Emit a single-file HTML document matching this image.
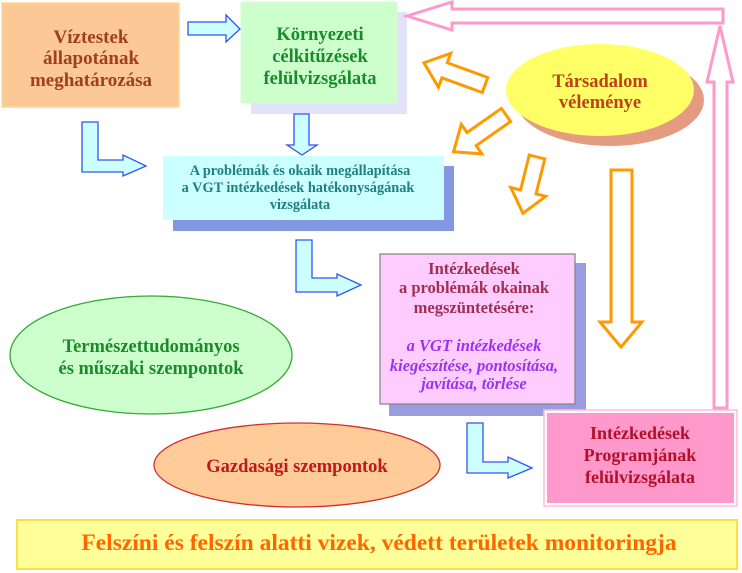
<!DOCTYPE html>
<html><head><meta charset="utf-8"><style>
html,body{margin:0;padding:0;background:#fff;}
svg{display:block;}
text{font-family:"Liberation Serif",serif;font-weight:bold;}
</style></head><body>
<svg width="742" height="573" viewBox="0 0 742 573" xmlns="http://www.w3.org/2000/svg">
<rect x="2" y="3" width="177" height="104" fill="#fcc895" stroke="#fbd890" stroke-width="1.5"/>
<g fill="#a0401a" font-size="19" text-anchor="middle">
<text x="91" y="43">Víztestek</text>
<text x="91" y="64">állapotának</text>
<text x="91" y="86">meghatározása</text>
</g>
<rect x="251" y="12" width="156" height="102" fill="#e2e2fa"/>
<rect x="241" y="2" width="156" height="101" fill="#ccffcc" stroke="#d8f8d8"/>
<g fill="#1a8a2a" font-size="18.5" text-anchor="middle">
<text x="320" y="40">Környezeti</text>
<text x="320" y="62">célkitűzések</text>
<text x="320" y="84">felülvizsgálata</text>
</g>
<polygon points="188,22 226,22 226,15 240,29 226,42 226,35 188,35" fill="#ccffff" stroke="#3355ee" stroke-width="1.3"/>
<polygon points="294,114 309,114 309,145 317,145 302,155 287,145 294,145" fill="#ccffff" stroke="#3355ee" stroke-width="1.3"/>
<polygon points="82,122 98,122 98,160 123,160 123,155 146,166 123,176 123,172 82,172" fill="#ccffff" stroke="#3355ee" stroke-width="1.3"/>
<rect x="173" y="166" width="281" height="65" fill="#8398e0"/>
<rect x="163" y="156" width="281" height="64" fill="#ccffff"/>
<g fill="#208080" font-size="14.3" text-anchor="middle">
<text x="300" y="175">A problémák és okaik megállapítása</text>
<text x="298" y="192">a VGT intézkedések hatékonyságának</text>
<text x="300" y="209">vizsgálata</text>
</g>
<polygon points="296,240 312,240 312,278 337,278 337,274 361,285 337,296 337,292 296,292" fill="#ccffff" stroke="#3355ee" stroke-width="1.3"/>
<ellipse cx="610" cy="100" rx="94" ry="46" fill="#e59a82"/>
<ellipse cx="600" cy="90" rx="94" ry="46" fill="#ffff66"/>
<g fill="#c0401a" font-size="18.5" text-anchor="middle">
<text x="600" y="87">Társadalom</text>
<text x="600" y="108">véleménye</text>
</g>
<g fill="#fff" stroke="#ff9900" stroke-width="3" stroke-linejoin="miter">
<polygon transform="translate(485,85) rotate(200)" points="0,-8 43,-8 43,-18 65,0 43,18 43,8 0,8"/>
<polygon transform="translate(506,115) rotate(145)" points="0,-8 42,-8 42,-18 64,0 42,18 42,8 0,8"/>
<polygon transform="translate(537,157) rotate(104)" points="0,-8 36,-8 36,-18 58,0 36,18 36,8 0,8"/>
<polygon points="611,170 632,170 632,322 642,322 621,347 600,322 611,322"/>
</g>
<g fill="#fff" stroke="#ff99cc" stroke-width="3">
<polygon points="714,408 714,82 707,82 720,26 733,82 727,82 727,408"/>
<polygon points="723,9 452,9 452,2 407,16 452,30 452,23 723,23"/>
</g>
<rect x="389" y="263" width="197" height="153" fill="#9b9be0"/>
<rect x="380" y="254" width="195" height="150" fill="#ffccff" stroke="#888" stroke-width="1.3"/>
<g fill="#a03050" font-size="16.5" text-anchor="middle">
<text x="474" y="274">Intézkedések</text>
<text x="474" y="293">a problémák okainak</text>
<text x="474" y="313">megszüntetésére:</text>
</g>
<g fill="#9933ee" font-size="16.5" font-style="italic" text-anchor="middle">
<text x="474" y="351">a VGT intézkedések</text>
<text x="474" y="371">kiegészítése, pontosítása,</text>
<text x="474" y="389">javítása, törlése</text>
</g>
<ellipse cx="151" cy="355" rx="141" ry="59" fill="#ccffcc" stroke="#33aa33" stroke-width="1.3"/>
<g fill="#1a8a2a" font-size="18.5" text-anchor="middle">
<text x="151" y="352">Természettudományos</text>
<text x="151" y="374">és műszaki szempontok</text>
</g>
<ellipse cx="297" cy="465" rx="143" ry="42" fill="#ffcc99" stroke="#d03030" stroke-width="1.3"/>
<text x="297" y="472" fill="#c01818" font-size="18.5" text-anchor="middle">Gazdasági szempontok</text>
<polygon points="467,423 483,423 483,462 508,462 508,457 532,468 508,478 508,473 467,473" fill="#ccffff" stroke="#3355ee" stroke-width="1.3"/>
<rect x="544" y="410" width="193" height="96" fill="#fff" stroke="#ffbbdd" stroke-width="1.5"/>
<rect x="547" y="413" width="187" height="90" fill="#ff99cc"/>
<g fill="#b0102a" font-size="18" text-anchor="middle">
<text x="640" y="439">Intézkedések</text>
<text x="640" y="461">Programjának</text>
<text x="640" y="483">felülvizsgálata</text>
</g>
<rect x="17" y="520" width="720" height="49" fill="#ffff99" stroke="#ffdd44" stroke-width="2"/>
<text x="379" y="550" fill="#ff6600" font-size="23.5" text-anchor="middle">Felszíni és felszín alatti vizek, védett területek monitoringja</text>
</svg>
</body></html>
